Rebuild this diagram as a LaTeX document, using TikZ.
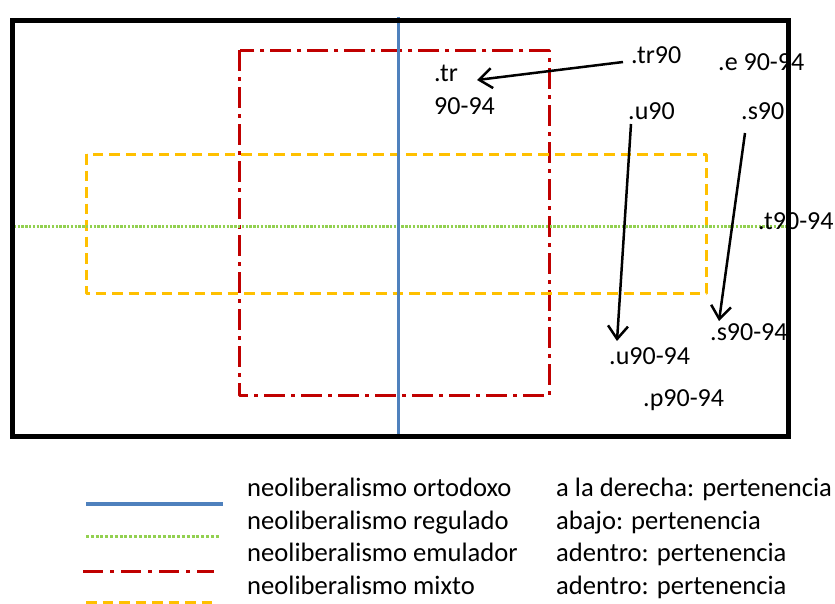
\documentclass[tikz,border=0pt]{standalone}
\usepackage{fontspec}
\setmainfont{Carlito}
\usetikzlibrary{arrows.meta}
\definecolor{cblue}{HTML}{4F81BD}
\definecolor{cgreen}{HTML}{92D050}
\definecolor{cred}{HTML}{C00000}
\definecolor{cyellow}{HTML}{FFC000}
\tikzset{
  lbl/.style={anchor=base west,inner sep=0pt,font=\fontsize{26}{31}\selectfont},
  leg/.style={lbl,font=\fontsize{26.6}{31}\selectfont},
  ortodoxo/.style={draw=cblue,line width=3pt},
  regulado/.style={draw=cgreen,line width=3pt,dash pattern=on 2.4pt off 1.4pt},
  emulador/.style={draw=cred,line width=3pt,line join=round,dash pattern=on 21pt off 6pt on 4pt off 6pt},
  mixto/.style={draw=cyellow,line width=3pt,line join=round,dash pattern=on 10.5pt off 6pt},
  arr/.style={draw=black,line width=2.5pt,-{Straight Barb[length=13pt,width=20pt,line width=2.5pt]}}
}
\begin{document}
\begin{tikzpicture}[x=1pt,y=-1pt]
\useasboundingbox (0,0) rectangle (835,603);
% shapes
\path[emulador] (239.5,50.3) rectangle (549,395.7);
\path[mixto] (86.7,154) rectangle (706,293.7);
\path[regulado] (10,226) -- (787,226);
\path[ortodoxo] (398.7,17) -- (398.7,434);
% labels
\node[lbl] (tr90) at (631,63) {.tr90};
\node[lbl] (e9094) at (718,70.5) {.e 90-94};
\node[lbl] (tr) at (434,81.7) {.tr};
\node[lbl] (tr9094) at (434,114) {90-94};
\node[lbl] (u90) at (628,119) {.u90};
\node[lbl] (s90) at (741,119) {.s90};
\node[lbl] (t9094) at (758,229) {.t90-94};
\node[lbl] (s9094) at (710,340) {.s90-94};
\node[lbl] (u9094) at (609,364) {.u90-94};
\node[lbl] (p9094) at (643,406) {.p90-94};
% arrows
\coordinate (a1) at (623,62);
\coordinate (b1) at (477,80);
\coordinate (a2) at (631,124);
\coordinate (b2) at (617,341);
\coordinate (a3) at (745,133);
\coordinate (b3) at (719,321);
\draw[arr] (a1) -- (b1);
\draw[arr] (a2) -- (b2);
\draw[arr] (a3) -- (b3);
% frame
\node[draw=black,line width=5pt,inner sep=0pt,minimum width=776pt,minimum height=416.5pt,anchor=north west] (frame) at (10,17.5) {};
% legend
\coordinate (l1a) at (86,504); \coordinate (l1b) at (223,504);
\coordinate (l2a) at (86,536); \coordinate (l2b) at (219,536);
\coordinate (l3a) at (83,571.5); \coordinate (l3b) at (214,571.5);
\coordinate (l4a) at (86,602.5); \coordinate (l4b) at (217,602.5);
\path[ortodoxo,line width=3.5pt] (l1a) -- (l1b);
\path[regulado,dash pattern=on 3pt off 1.8pt] (l2a) -- (l2b);
\path[emulador,line width=3.5pt,dash pattern=on 20pt off 7pt on 4pt off 7pt] (l3a) -- (l3b);
\path[mixto,line width=3pt] (l4a) -- (l4b);
\node[leg] (n1) at (247,496.7) {neoliberalismo ortodoxo};
\node[leg] (n2) at (247,529.2) {neoliberalismo regulado};
\node[leg] (n3) at (247,561.7) {neoliberalismo emulador};
\node[leg] (n4) at (247,594.2) {neoliberalismo mixto};
\node[leg] (m1) at (556,496.7) {a la derecha: pertenencia};
\node[leg] (m2) at (556,529.2) {abajo: pertenencia};
\node[leg] (m3) at (556,561.7) {adentro: pertenencia};
\node[leg] (m4) at (556,594.2) {adentro: pertenencia};
\end{tikzpicture}
\end{document}
